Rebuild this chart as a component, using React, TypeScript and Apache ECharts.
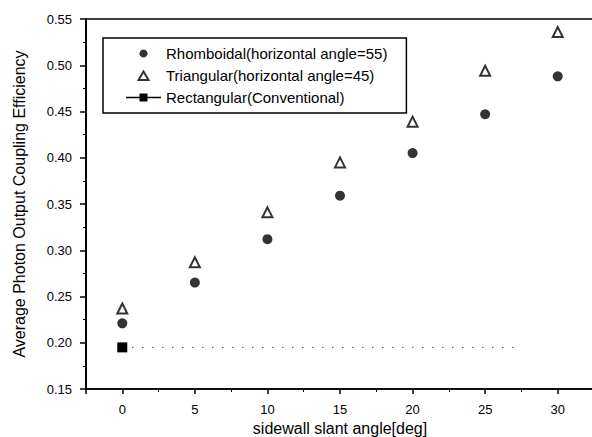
import React, { useEffect, useRef } from "react";
import * as echarts from "echarts";

const angles = [0, 5, 10, 15, 20, 25, 30];
const rhomboidal = [0.221, 0.265, 0.312, 0.359, 0.405, 0.447, 0.488];
const triangular = [0.237, 0.287, 0.341, 0.395, 0.439, 0.494, 0.536];
const rectangular = [0.195, 0.195, 0.195, 0.195, 0.195, 0.195];
const rectAngles = [0, 5, 10, 15, 20, 27.5];
const seriesNames = [
  "Rhomboidal(horizontal angle=55)",
  "Triangular(horizontal angle=45)",
  "Rectangular(Conventional)",
];
const xTitle = "sidewall slant angle[deg]";
const yTitle = "Average Photon Output Coupling Efficiency";

export default function App() {
  const ref = useRef<HTMLDivElement>(null);
  useEffect(() => {
    const chart = echarts.init(ref.current!, null, { renderer: "svg" });
    const font = "Arial, 'Liberation Sans', sans-serif";
    chart.setOption({
      animation: false,
      backgroundColor: "#fff",
      textStyle: { fontFamily: font },
      grid: {
        left: 86,
        top: 19,
        right: -2,
        bottom: 48,
        outerBoundsMode: "none",
        containLabel: false,
        show: true,
        borderColor: "#000",
        borderWidth: 1.5,
      },
      legend: {
        orient: "vertical",
        left: 103,
        top: 38,
        padding: [8, 19, 8, 22],
        borderColor: "#000",
        borderWidth: 1.5,
        itemGap: 7,
        itemWidth: 35,
        itemHeight: 10,
        textStyle: { fontFamily: font, fontSize: 15, color: "#000" },
        data: [
          { name: seriesNames[0], icon: "path://M0,0M35,10M17.5,1A4,4,0,1,1,17.49,1Z" },
          {
            name: seriesNames[1],
            icon: "path://M0,0M35,10M12.5,9.5L17.5,1L22.5,9.5Z",
            itemStyle: { color: "#fff", borderColor: "#000", borderWidth: 2 },
          },
          { name: seriesNames[2], lineStyle: { type: "solid", width: 1.5, color: "#000" } },
        ],
      },
      xAxis: {
        type: "value",
        min: -2.5,
        max: 32.5,
        splitNumber: 7,
        name: xTitle,
        nameLocation: "middle",
        nameGap: 31,
        nameTextStyle: { fontFamily: font, fontSize: 16, color: "#000" },
        axisLine: { show: true, onZero: false, lineStyle: { color: "#000", width: 1.5 } },
        axisTick: { show: true, length: 5, lineStyle: { color: "#000", width: 1.5 } },
        minorTick: { show: true, splitNumber: 2, length: 3, lineStyle: { color: "#000" } },
        splitLine: { show: false },
        axisLabel: {
          margin: 14,
          fontSize: 13,
          color: "#000",
          formatter: (v: number) => (Math.abs(v % 5) < 1e-6 ? String(v) : ""),
        },
      },
      yAxis: {
        type: "value",
        min: 0.15,
        max: 0.55,
        interval: 0.05,
        name: yTitle,
        nameLocation: "middle",
        nameGap: 59,
        nameTextStyle: { fontFamily: font, fontSize: 16, color: "#000" },
        axisLine: { show: true, onZero: false, lineStyle: { color: "#000", width: 2 } },
        axisTick: { show: true, length: 6, lineStyle: { color: "#000", width: 1.5 } },
        minorTick: { show: true, splitNumber: 2, length: 3, lineStyle: { color: "#000" } },
        splitLine: { show: false },
        axisLabel: {
          margin: 14,
          fontSize: 13,
          color: "#000",
          formatter: (v: number) => v.toFixed(2),
        },
      },
      series: [
        {
          name: seriesNames[0],
          type: "scatter",
          symbol: "circle",
          symbolSize: 10,
          itemStyle: { color: "#000" },
          data: angles.map((a, i) => [a, rhomboidal[i]]),
        },
        {
          name: seriesNames[1],
          type: "scatter",
          symbol: "triangle",
          symbolSize: 10,
          symbolKeepAspect: true,
          itemStyle: { color: "#fff", borderColor: "#000", borderWidth: 2 },
          data: angles.map((a, i) => [a, triangular[i]]),
        },
        {
          name: seriesNames[2],
          type: "line",
          symbol: "rect",
          symbolSize: (_v: any, p: any) => (p && p.dataIndex === 0 ? 10 : 0),
          showAllSymbol: true,
          itemStyle: { color: "#000" },
          lineStyle: { color: "#000", width: 1, type: [1, 9] },
          data: rectAngles.map((a, i) => [a, rectangular[i]]),
        },
      ],
    });
    return () => chart.dispose();
  }, []);
  return (
    <div
      ref={ref}
      style={{ position: "fixed", left: 0, top: 0, width: 592, height: 437, background: "#fff" }}
    />
  );
}
